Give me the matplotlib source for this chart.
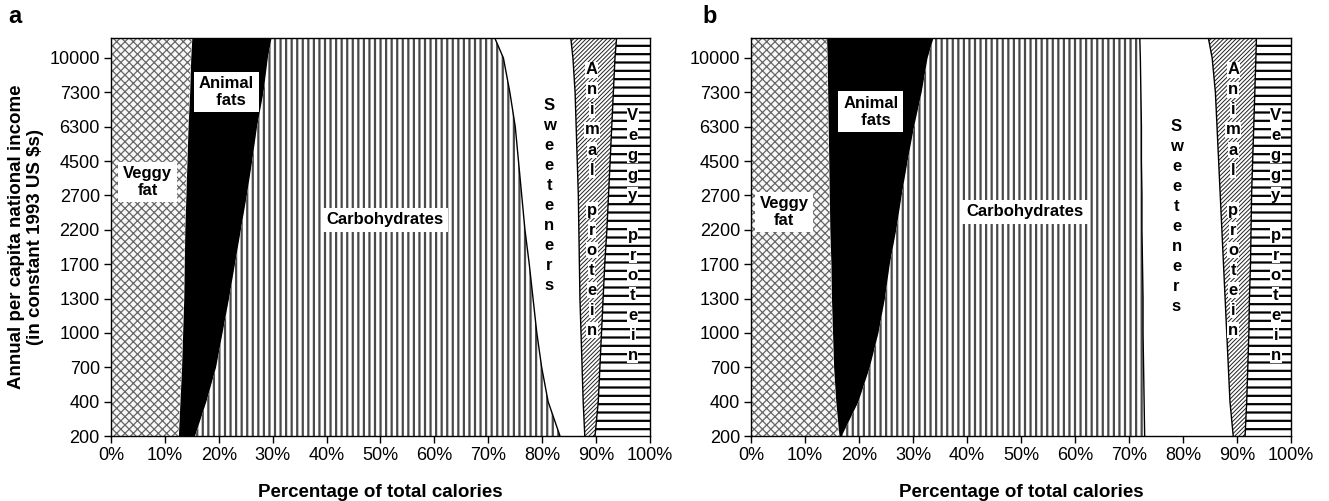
import matplotlib.pyplot as plt
import numpy as np

plt.rcParams['font.family'] = ['Liberation Sans', 'DejaVu Sans']

# Income levels (categorical y axis), bottom to top
incomes = ['200', '400', '700', '1000', '1300', '1700', '2200', '2700',
           '4500', '6300', '7300', '10000']
# row positions: the 12 income levels plus the top edge of the plot
rows = list(range(len(incomes))) + [11.58]

# Cumulative % of total calories at the right edge of each band
# panel a
a_veggy_fat = [12.5, 12.8, 13.1, 13.3, 13.5, 13.6, 13.7, 13.9, 14.1, 14.3, 14.6, 14.8, 15.0]
a_animal_fat = [15.6, 17.7, 19.5, 20.7, 21.9, 23.0, 24.1, 25.2, 26.2, 27.1, 28.3, 29.1, 29.8]
a_carbs = [83.3, 81.1, 79.9, 79.0, 78.3, 77.6, 76.8, 76.2, 75.6, 75.0, 74.0, 72.8, 71.2]
a_sweet = [87.9, 87.6, 87.4, 87.2, 87.0, 86.9, 86.8, 86.7, 86.5, 86.3, 86.1, 85.7, 85.3]
a_animal_prot = [89.8, 90.4, 90.7, 91.0, 91.3, 91.6, 92.0, 92.3, 92.6, 92.9, 93.2, 93.5, 93.8]
# panel b
b_veggy_fat = [16.3, 15.7, 15.3, 15.1, 14.9, 14.8, 14.6, 14.5, 14.4, 14.3, 14.2, 14.1, 14.0]
b_animal_fat = [16.8, 19.9, 22.0, 23.6, 24.8, 25.7, 26.9, 27.9, 29.0, 30.2, 31.6, 32.7, 33.8]
b_carbs = [72.9, 72.8, 72.7, 72.6, 72.6, 72.5, 72.4, 72.4, 72.3, 72.3, 72.2, 72.1, 72.0]
b_sweet = [89.3, 88.7, 88.4, 88.1, 87.8, 87.5, 87.2, 86.9, 86.6, 86.3, 86.0, 85.4, 84.7]
b_animal_prot = [91.5, 91.8, 92.0, 92.2, 92.3, 92.5, 92.6, 92.7, 92.9, 93.1, 93.3, 93.5, 93.6]

# face, hatch colour, hatch, hatch width
band_styles = [
    ('#f8f8f8', '#666666', 'xxxx', 0.9),    # veggy fat
    ('black', 'black', None, 0),            # animal fats
    ('white', '#4a4a4a', '|||', 1.6),       # carbohydrates
    ('white', 'white', None, 0),            # sweeteners
    ('white', '#222222', '////////', 0.7),  # animal protein
    ('white', 'black', '--', 1.6),          # veggy protein
]


def draw_panel(ax, edges, letter):
    y = np.array(rows)
    cols = [np.zeros(len(y))] + [np.array(e) for e in edges] + [np.full(len(y), 100.0)]
    for i, (fc, hc, hatch, hw) in enumerate(band_styles):
        with plt.rc_context({'hatch.linewidth': hw if hw else 1.0}):
            poly = ax.fill_betweenx(y, cols[i], cols[i + 1], facecolor=fc,
                                    edgecolor=hc, hatch=hatch, linewidth=0, zorder=1)
        if hatch and hasattr(poly, 'set_hatch_linewidth'):
            poly.set_hatch_linewidth(hw)
    # boundary lines between the right-hand bands
    for k in (2, 3, 4):
        ax.plot(edges[k], y, color='black', lw=1.0, zorder=2)

    ax.set_xlim(0, 100)
    ax.set_ylim(0, 11.58)
    ax.set_yticks(range(len(incomes)))
    ax.set_yticklabels(incomes)
    ax.set_xticks(range(0, 101, 10))
    ax.set_xticklabels([f'{v}%' for v in range(0, 101, 10)])
    ax.tick_params(direction='out', length=5, width=1, labelsize=13, pad=3)
    for s in ax.spines.values():
        s.set_linewidth(1.0)
        s.set_zorder(3)
    ax.set_xlabel('Percentage of total calories', fontsize=13.5,
                  fontweight='bold', labelpad=14)
    ax.text(-0.19 if letter == 'a' else -0.09, 1.025, letter, transform=ax.transAxes,
            fontsize=17, fontweight='bold', va='bottom')


def label(ax, x, y, s, box=True):
    ax.text(x, y, s, ha='center', va='center', fontsize=12, fontweight='bold',
            linespacing=1.1, zorder=4,
            bbox=dict(facecolor='white', edgecolor='none', pad=3.5) if box else None)


def column(ax, x, y0, word, box=True):
    step = 0.582
    for k, ch in enumerate(word):
        if ch == ' ':
            continue
        ax.text(x, y0 - k * step, ch, ha='center', va='center', fontsize=12,
                fontweight='bold', zorder=4,
                bbox=dict(facecolor='white', edgecolor='none', pad=0.5) if box else None)


fig = plt.figure(figsize=(13.29, 5.01), dpi=100)
ax_a = fig.add_axes([0.0835, 0.1297, 0.4056, 0.7944])
ax_b = fig.add_axes([0.5651, 0.1297, 0.4063, 0.7944])

draw_panel(ax_a, [a_veggy_fat, a_animal_fat, a_carbs, a_sweet, a_animal_prot], 'a')
draw_panel(ax_b, [b_veggy_fat, b_animal_fat, b_carbs, b_sweet, b_animal_prot], 'b')

ax_a.set_ylabel('Annual per capita national income\n(in constant 1993 US \\$s)',
                fontsize=13.5, fontweight='bold', labelpad=4, linespacing=1.15)

label(ax_a, 6.8, 7.39, 'Veggy\nfat')
label(ax_a, 21.4, 10.01, 'Animal\n  fats')
label(ax_a, 50.8, 6.29, 'Carbohydrates')
column(ax_a, 81.3, 9.63, 'Sweeteners', box=False)
column(ax_a, 89.2, 10.65, 'Animal protein')
column(ax_a, 96.8, 9.34, 'Veggy protein')

label(ax_b, 6.1, 6.52, 'Veggy\nfat')
label(ax_b, 22.2, 9.43, 'Animal\n  fats')
label(ax_b, 50.7, 6.52, 'Carbohydrates')
column(ax_b, 78.8, 9.02, 'Sweeteners', box=False)
column(ax_b, 89.3, 10.65, 'Animal protein')
column(ax_b, 97.2, 9.34, 'Veggy protein')

fig.savefig('out.png', dpi=100)
